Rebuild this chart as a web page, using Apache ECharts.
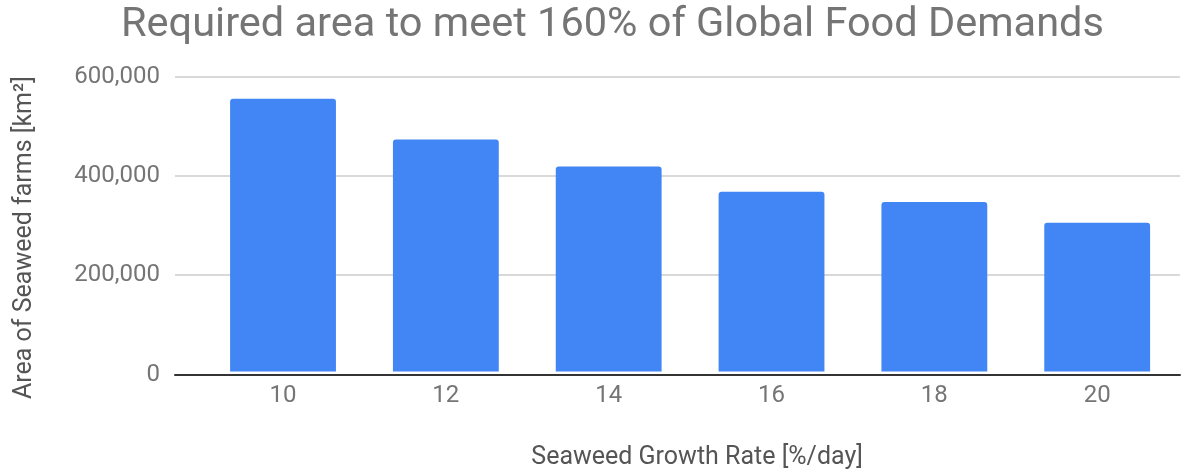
<!DOCTYPE html>
<html>
<head>
<meta charset="utf-8">
<script src="https://cdn.jsdelivr.net/npm/echarts@6/dist/echarts.min.js"></script>
<style>
html,body{margin:0;padding:0;background:#fff;}
#chart{width:1199px;height:475px;}
</style>
</head>
<body>
<div id="chart"></div>
<script>
const categories = ['10', '12', '14', '16', '18', '20'];
const areaValues = [555000, 472000, 417000, 366000, 345000, 303000];
const yTicks = [0, 200000, 400000, 600000];

const chart = echarts.init(document.getElementById('chart'));
const font = 'Roboto';
chart.setOption({
  animation: false,
  backgroundColor: '#ffffff',
  title: {
    text: 'Required area to meet 160% of Global Food Demands',
    left: 116,
    top: 0,
    textStyle: { fontFamily: font, fontSize: 41.5, fontWeight: 'normal', color: '#757575' }
  },
  grid: [
    { left: 175, right: 19, top: 76.7, bottom: 100.5 },
    { left: 201.6, right: 20.4, top: 76.7, bottom: 100.5 }
  ],
  xAxis: [
    {
      gridIndex: 0, type: 'value', min: 0, max: 1,
      axisLine: { show: true, lineStyle: { color: '#333333', width: 2 } },
      axisTick: { show: false }, axisLabel: { show: false }, splitLine: { show: false }
    },
    {
      gridIndex: 1, type: 'category', data: categories,
      axisLine: { show: false }, axisTick: { show: false },
      axisLabel: { fontFamily: font, fontSize: 24, color: '#757575', margin: 12.5 },
      name: 'Seaweed Growth Rate [%/day]', nameLocation: 'middle', nameGap: 73.5,
      nameTextStyle: { fontFamily: font, fontSize: 25, color: '#555555', padding: [0, 0, 0, 14] }
    }
  ],
  yAxis: [
    {
      gridIndex: 0, type: 'value', min: yTicks[0], max: yTicks[yTicks.length - 1], interval: 200000,
      axisLine: { show: false }, axisTick: { show: false },
      axisLabel: {
        fontFamily: font, fontSize: 24, color: '#757575', margin: 15,
        formatter: v => v.toLocaleString('en-US')
      },
      splitLine: { lineStyle: { color: '#cccccc', width: 1.5 } },
      name: 'Area of Seaweed farms [km²]', nameLocation: 'middle', nameRotate: 90, nameGap: 137.5,
      nameTextStyle: { fontFamily: font, fontSize: 25, color: '#555555', padding: [0, 24, 0, 0] }
    },
    {
      gridIndex: 1, type: 'value', min: yTicks[0], max: yTicks[yTicks.length - 1],
      show: false, splitLine: { show: false }
    }
  ],
  series: [{
    type: 'bar',
    xAxisIndex: 1, yAxisIndex: 1,
    data: areaValues,
    barWidth: '65%',
    itemStyle: { color: '#4285F4', borderRadius: [3, 3, 0, 0] }
  }]
});
</script>
</body>
</html>
